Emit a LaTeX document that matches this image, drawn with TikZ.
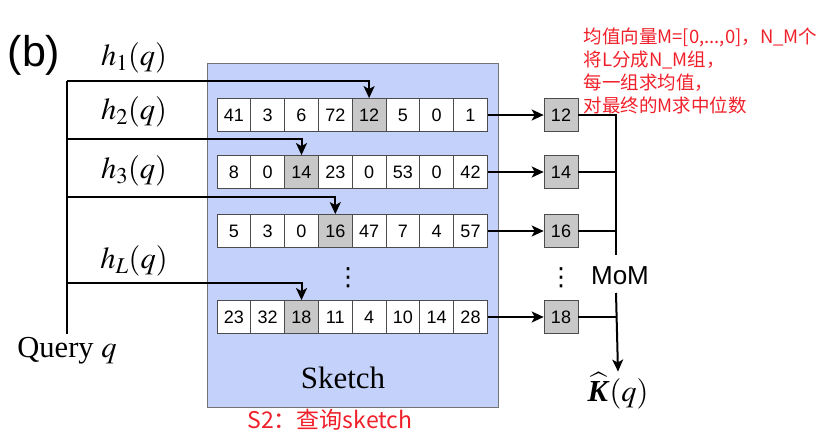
\documentclass[tikz,border=0pt]{standalone}
\usepackage{amsmath}
\usepackage{mathptmx}
\usepackage{fontspec}
\setmainfont{Liberation Serif}
\setsansfont{Liberation Sans}
\newfontfamily\cjk{Noto Sans CJK SC}
\newfontfamily\symfont{DejaVu Sans}
\usetikzlibrary{arrows.meta, positioning}

\definecolor{sketchblue}{HTML}{C4D2FB}
\definecolor{hitgray}{HTML}{C8C8C8}
\definecolor{noteRed}{HTML}{F0202A}

\begin{document}
\begin{tikzpicture}[
    x=1pt, y=-1pt,
    cell/.style={draw=black!70, line width=0.8pt, fill=white, minimum width=33.8pt, minimum height=33pt, inner sep=0pt, font=\sffamily\fontsize{18}{18}\selectfont},
    hit/.style={cell, fill=hitgray},
    outbox/.style={cell, fill=hitgray},
    link/.style={line width=2pt},
    edge/.style={link, -{Stealth[length=12pt, width=11pt, inset=3pt]}},
    lbl/.style={font=\fontsize{30.5}{32}\selectfont},
    dots/.style={inner sep=0pt, font=\symfont\fontsize{25}{25}\selectfont},
    note/.style={text=noteRed, font=\cjk\fontsize{18.5}{23}\selectfont, align=left}
]
    \useasboundingbox (0,0) rectangle (823,432);

    % Sketch block
    \node[draw=black!55, line width=0.8pt, fill=sketchblue, minimum width=291pt, minimum height=344pt, inner sep=0pt] (sketch) at (352.5,235) {};
    \node[font=\fontsize{31}{31}\selectfont] (sketchname) at (343,378) {Sketch};

    % Sketch rows: name / y / values / hit index / result
    \foreach \r/\ry/\vals/\k/\res in {1/115/{41,3,6,72,12,5,0,1}/5/12,
                                      2/172/{8,0,14,23,0,53,0,42}/3/14,
                                      3/231/{5,3,0,16,47,7,4,57}/4/16,
                                      L/317/{23,32,18,11,4,10,14,28}/3/18}{
        \foreach \v [count=\i] in \vals {
            \ifnum\i=\k
                \node[hit] (a\r-\i) at ({217+(\i-0.5)*33.8},\ry) {\v};
            \else
                \node[cell] (a\r-\i) at ({217+(\i-0.5)*33.8},\ry) {\v};
            \fi
        }
        \node[outbox] (m\r) at (561,\ry) {\res};
        \draw[edge] (a\r-8.east) -- (m\r.west);
    }

    \node[dots] (rowdots) at (348,278) {⋮};
    \node[dots] (outdots) at (561,278) {⋮};

    % Query and hash functions
    \node[lbl, anchor=north] (query) at (67,334) {Query $q$};
    \coordinate (t1) at (67,81);
    \coordinate (t2) at (67,139);
    \coordinate (t3) at (67,197);
    \coordinate (tL) at (67,283);
    \draw[link] (t1) -- (query.north);

    \node[lbl] (h1) at (134,58) {$h_1(q)$};
    \node[lbl] (h2) at (134,112) {$h_2(q)$};
    \node[lbl] (h3) at (134,171) {$h_3(q)$};
    \node[lbl] (hL) at (134,261) {$h_L(q)$};

    \draw[edge] (t1) -| (a1-5.north);
    \draw[edge] (t2) -| (a2-3.north);
    \draw[edge] (t3) -| (a3-4.north);
    \draw[edge] (tL) -| (aL-3.north);

    % Median of means
    \node[font=\sffamily\fontsize{26}{26}\selectfont] (mom) at (620,276) {MoM};
    \coordinate (bustop) at (616,255);
    \coordinate (busbot) at (616,293);
    \node[lbl, inner sep=1pt] (khat) at (618,391) {$\widehat{\textbf{\textit{K}}}(q)$};
    \draw[link] (m1.east) -| (bustop);
    \draw[link] (m2.east) -- (m2.east -| bustop);
    \draw[link] (m3.east) -- (m3.east -| bustop);
    \draw[link] (mL.east) -- (mL.east -| bustop);
    \draw[edge] (busbot) -- (khat.north);

    % Labels
    \node[font=\sffamily\fontsize{43}{43}\selectfont] (tag) at (34,55) {(b)};
    \node[note, anchor=north west] (notes) at (580,24) {均值向量M=[0,...,0]，N\_M个\\将L分成N\_M组，\\每一组求均值，\\对最终的M求中位数};
    \node[text=noteRed, font=\cjk\fontsize{23}{23}\selectfont] (step) at (330,420) {S2：查询sketch};
\end{tikzpicture}
\end{document}
